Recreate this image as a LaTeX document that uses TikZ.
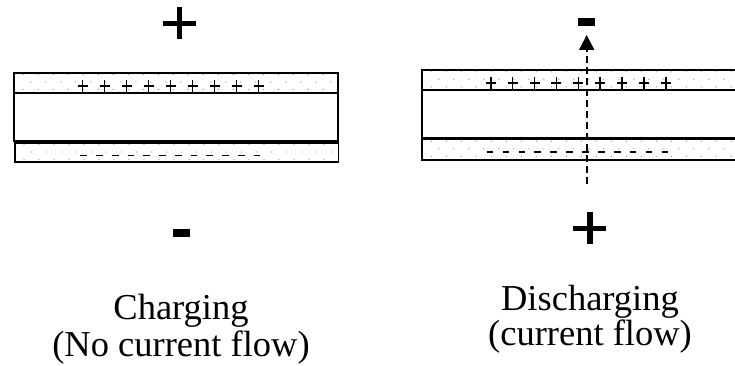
\documentclass[tikz,border=0pt]{standalone}
\usepackage{fontspec}
\setmainfont{Liberation Serif}
\usetikzlibrary{arrows.meta}

\tikzset{
  layer/.style={draw=black, line width=1.8pt},
  charge/.style={line width=1.6pt},
  bigsign/.style={fill=black, draw=none},
  caption/.style={anchor=base, inner sep=0pt, align=center},
  dotmark/.style={fill=black!38},
  flow/.style={dash pattern=on 7pt off 4pt, line width=1.8pt,
               -{Triangle[length=15pt,width=15pt]}}
}

% stippled band between (x1,y1) and (x2,y2)
\newcommand\dotband[4]{%
  \begin{scope}
    \clip (#1,#2) rectangle (#3,#4);
    \foreach \j in {0,1,2}{
      \foreach \i in {0,...,24}{
        \fill[dotmark] ({#1+9+15*\i+7.5*mod(\j,2)},{#2+1.8+7.5*\j}) circle (0.7pt);
      }
    }
  \end{scope}}

\begin{document}
\begin{tikzpicture}[x=1pt,y=-1pt]
  \useasboundingbox (0,0) rectangle (735,366);
  \clip (0,0) rectangle (735,366);

  % ---- left capacitor (charging) ----
  \dotband{14.3}{72.7}{338}{93.3}
  \dotband{15}{142.7}{338.5}{162}
  \draw[layer] (14.3,72.7) rectangle (338,93.3);
  \draw[layer] (14.3,93.3) rectangle (338,141);
  \draw[layer] (15,142.7) rectangle (338.5,162);
  \foreach \k in {0,...,8}
    \draw[charge] ({82.5+22*\k-5},86) -- ++(10,0)
                  ({82.5+22*\k},80) -- ++(0,12.5);
  \foreach \k in {0,...,11}
    \draw[charge] ({83.7+15.75*\k-3.3},155.7) -- ++(6.6,0);

  % terminals
  \fill[bigsign] (163.3,20.7) rectangle (196,26);
  \fill[bigsign] (176.7,6.7) rectangle (182.3,39.3);
  \fill[bigsign] (173.3,229) rectangle (190,236.7);

  % ---- right capacitor (discharging) ----
  \dotband{422.3}{70}{760}{90.3}
  \dotband{422.3}{139.5}{760}{160}
  \draw[layer] (422.3,70) rectangle (760,90.3);
  \draw[layer] (422.3,90.3) rectangle (760,138.3);
  \draw[layer] (422.3,139.5) rectangle (760,160);
  \foreach \k in {0,...,8}
    \draw[charge] ({490.7+21.9*\k-5},83.3) -- ++(10,0)
                  ({490.7+21.9*\k},76.7) -- ++(0,13);
  \foreach \k in {0,...,11}
    \draw[charge] ({490+15.9*\k-3.3},152.3) -- ++(6.6,0);

  % terminals
  \fill[bigsign] (578.3,18.3) rectangle (595,25.7);
  \fill[bigsign] (573.3,225.7) rectangle (606,231);
  \fill[bigsign] (587.3,212.3) rectangle (592.7,244);

  % current path
  \coordinate (flowstart) at (586.7,184);
  \coordinate (flowend) at (586.7,35);
  \draw[flow] (flowstart) -- (flowend);

  % captions (base anchor sits on the last line)
  \node[caption, font=\fontsize{36.5}{37.4}\selectfont] (chg) at (181,356.7)
    {Charging\\(No current flow)};
  \node[caption, font=\fontsize{36.5}{33}\selectfont] (dis) at (590,345.5)
    {Discharging\\(current flow)};
\end{tikzpicture}
\end{document}
